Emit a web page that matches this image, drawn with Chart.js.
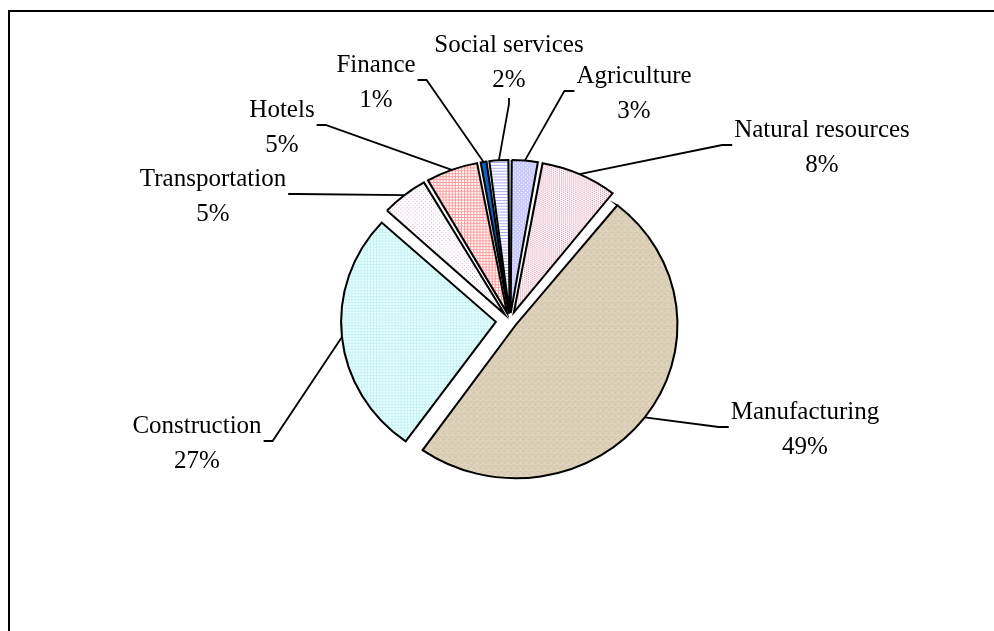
<!DOCTYPE html>
<html>
<head>
<meta charset="utf-8">
<script src="https://cdn.jsdelivr.net/npm/chart.js@4/dist/chart.umd.min.js"></script>
<style>
  html, body { margin: 0; padding: 0; background: #fff; }
  canvas { display: block; }
</style>
</head>
<body>
<canvas id="setorChart" width="994" height="631"></canvas>
<script>
// dados (fatias em ordem horaria a partir das 12h)
const setores = ['Agriculture', 'Natural resources', 'Manufacturing', 'Construction', 'Transportation', 'Hotels', 'Finance', 'Social services'];
const participacao = [2.8, 7.9, 49.2, 26.9, 4.9, 5.4, 0.8, 2.1];

// posicao dos rotulos (centro do texto, linha de base do nome) e lado da linha guia
const rotuloX = [634, 822, 805, 197, 213, 282, 376, 509];
const rotuloY = [83, 137, 419, 433, 186, 117, 72, 52];
const rotuloLado = ['left', 'left', 'left', 'right', 'right', 'right', 'right', 'bottom'];

const deslocamento = 14;   // explosao de cada fatia, em px
const escalaX = 1.024;     // a pizza original e levemente achatada
const escalaY = 0.973;
const fonte = '25px "Liberation Serif", "Times New Roman", serif';

const canvas = document.getElementById('setorChart');
const ctx = canvas.getContext('2d');

function padrao(tam, fundo, desenhar) {
    const c = document.createElement('canvas');
    c.width = tam;
    c.height = tam;
    const g = c.getContext('2d');
    g.fillStyle = fundo;
    g.fillRect(0, 0, tam, tam);
    desenhar(g);
    return ctx.createPattern(c, 'repeat');
}

const preenchimentos = [
    // Agriculture: lilas com pontos brancos
    padrao(4, '#c9c9fb', g => {
        g.fillStyle = '#ffffff';
        g.fillRect(0, 0, 1, 1);
        g.fillRect(2, 2, 1, 1);
    }),
    // Natural resources: pontilhado rosa
    padrao(4, '#fff8fa', g => {
        g.fillStyle = '#d894ad';
        g.fillRect(0, 0, 1, 1);
        g.fillRect(2, 1, 1, 1);
        g.fillRect(0, 2, 1, 1);
        g.fillRect(2, 3, 1, 1);
    }),
    // Manufacturing: textura bege tipo lona
    padrao(6, '#dcd0b9', g => {
        g.fillStyle = '#d2c4aa';
        g.fillRect(0, 0, 2, 1);
        g.fillRect(3, 3, 2, 1);
        g.fillRect(1, 4, 1, 1);
        g.fillStyle = '#e5dbc7';
        g.fillRect(4, 0, 1, 2);
        g.fillRect(1, 2, 1, 1);
    }),
    // Construction: ciano claro quadriculado
    padrao(3, '#e8ffff', g => {
        g.fillStyle = '#c9f3f3';
        g.fillRect(0, 0, 1, 3);
        g.fillRect(0, 0, 3, 1);
    }),
    // Transportation: pontos rosados esparsos
    padrao(4, '#ffffff', g => {
        g.fillStyle = '#dbb0d0';
        g.fillRect(0, 0, 1, 1);
        g.fillRect(2, 2, 1, 1);
    }),
    // Hotels: xadrez rosa
    padrao(3, '#ffffff', g => {
        g.fillStyle = '#ff9c9c';
        g.fillRect(0, 0, 1, 3);
        g.fillRect(0, 0, 3, 1);
    }),
    // Finance: azul solido
    '#0a64c8',
    // Social services: listras horizontais azuis
    padrao(3, '#ffffff', g => {
        g.fillStyle = '#a9a9ee';
        g.fillRect(0, 0, 3, 1);
    })
];

const total = participacao.reduce((a, b) => a + b, 0);

const rotulosPlugin = {
    id: 'rotulos',
    beforeDraw(chart) {
        const c = chart.ctx;
        c.save();
        c.strokeStyle = '#000';
        c.lineWidth = 2;
        c.strokeRect(9, 11, 1200, 1000);
        c.restore();
    },
    beforeDatasetsDraw(chart) {
        const c = chart.ctx;
        const {x, y} = chart.getDatasetMeta(0).data[0];
        c.save();
        c.translate(x, y);
        c.scale(escalaX, escalaY);
        c.translate(-x, -y);
    },
    afterDatasetsDraw(chart) {
        const c = chart.ctx;
        c.restore();
        const arcos = chart.getDatasetMeta(0).data;
        c.save();
        c.font = fonte;
        c.fillStyle = '#000';
        c.strokeStyle = '#000';
        c.lineWidth = 1.8;
        c.textAlign = 'center';
        c.textBaseline = 'alphabetic';
        arcos.forEach((arco, i) => {
            const {x, y, startAngle, endAngle, outerRadius} =
                arco.getProps(['x', 'y', 'startAngle', 'endAngle', 'outerRadius'], true);
            const meio = (startAngle + endAngle) / 2;
            const dist = outerRadius + deslocamento;
            const px = x + Math.cos(meio) * dist * escalaX;
            const py = y + Math.sin(meio) * dist * escalaY;

            const lx = rotuloX[i];
            const ly = rotuloY[i];
            const larg = c.measureText(setores[i]).width;
            let ax, ay, bx, by;
            if (rotuloLado[i] === 'left') {
                ax = lx - larg / 2 - 2; ay = ly + 8; bx = ax - 10; by = ay;
            } else if (rotuloLado[i] === 'right') {
                ax = lx + larg / 2 + 2; ay = ly + 8; bx = ax + 9; by = ay;
            } else {
                ax = lx; ay = ly + 46; bx = ax; by = ay + 6;
            }
            c.beginPath();
            c.moveTo(ax, ay);
            c.lineTo(bx, by);
            c.lineTo(px, py);
            c.stroke();

            c.fillText(setores[i], lx, ly);
            c.fillText(Math.round(participacao[i]) + '%', lx, ly + 35);
        });
        c.restore();
    }
};

new Chart(ctx, {
    type: 'pie',
    data: {
        labels: setores,
        datasets: [{
            data: participacao,
            backgroundColor: preenchimentos,
            borderColor: '#000',
            borderWidth: 2,
            borderJoinStyle: 'miter',
            // o Chart.js move a fatia offset/4 * (2 - sen(angulo)); compensa para todas andarem igual
            offset: function(context) {
                const ang = context.parsed / total * 2 * Math.PI;
                return deslocamento * 4 / (2 - Math.sin(Math.min(Math.PI, ang)));
            }
        }]
    },
    options: {
        responsive: false,
        animation: false,
        events: [],
        radius: 151,
        layout: {
            padding: { left: 126, right: 100, top: 110, bottom: 100 }
        },
        plugins: {
            legend: { display: false },
            tooltip: { enabled: false }
        }
    },
    plugins: [rotulosPlugin]
});
</script>
</body>
</html>
